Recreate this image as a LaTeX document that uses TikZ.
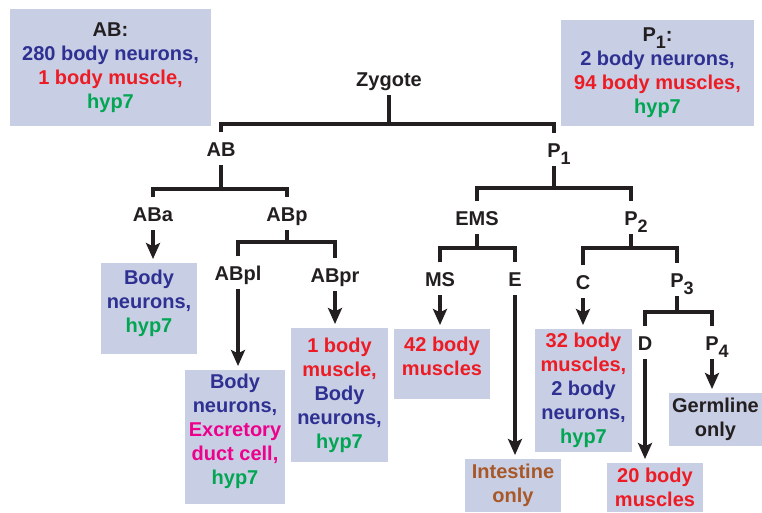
\documentclass[tikz,border=0pt]{standalone}
\usepackage{fontspec}
\setmainfont{Liberation Sans}
\usepackage{xcolor}
\usetikzlibrary{arrows.meta}
\definecolor{inkblack}{RGB}{35,31,32}
\definecolor{boxfill}{RGB}{200,206,228}
\definecolor{nrnblue}{RGB}{46,49,146}
\definecolor{mscred}{RGB}{237,28,36}
\definecolor{hypgreen}{RGB}{0,166,81}
\definecolor{ductpink}{RGB}{236,0,140}
\definecolor{gutbrown}{RGB}{168,88,40}
\newcommand{\lowidx}[1]{\smash{\raisebox{-5.25pt}{\fontsize{13.5pt}{13.5pt}\selectfont #1}}}
\newcommand{\Pcell}[1]{P\rlap{\lowidx{#1}}}
\newcommand{\nrn}[1]{\textcolor{nrnblue}{#1}}
\newcommand{\msc}[1]{\textcolor{mscred}{#1}}
\newcommand{\hypg}[1]{\textcolor{hypgreen}{#1}}
\newcommand{\duct}[1]{\textcolor{ductpink}{#1}}
\newcommand{\gut}[1]{\textcolor{gutbrown}{#1}}
\tikzset{
  splitline/.style = {draw=inkblack, line width=2.5pt},
  fatearr/.style   = {-{Stealth[length=12pt,width=10.5pt,inset=2.5pt]}, draw=inkblack,
                      line width=2.5pt, shorten >=3pt},
  cellname/.style  = {anchor=base, inner xsep=0pt, inner ysep=6.75pt, text height=10.7pt,
                      text depth=0pt, text=inkblack},
  fatebox/.style   = {fill=boxfill, align=center, inner sep=0pt, outer sep=0pt, text=inkblack},
  fatesize/.style 2 args = {minimum width=#1*0.75pt, minimum height=#2*0.75pt}
}

\begin{document}
\begin{tikzpicture}[x=0.75pt,y=-0.75pt,
    every node/.style={font=\fontsize{15pt}{18pt}\selectfont\bfseries}]
  \useasboundingbox (0,0) rectangle (762,512);
  % what the two founder cells give
  \node[fatebox,fatesize={201}{117}] (abinfo) at (110.5,67.5)
       {AB:\\ \nrn{280 body neurons,}\\ \msc{1 body muscle,}\\ \hypg{hyp7}};
  \node[fatebox,fatesize={193}{106}] (pinfo) at (657.5,73)
       {P\lowidx{1}:\\ \nrn{2 body neurons,}\\ \msc{94 body muscles,}\\ \hypg{hyp7}};
  % the cells of the lineage
  \node[cellname] (zyg)    at (389,86)  {Zygote};
  \node[cellname] (ab)     at (221,156) {AB};
  \node[cellname] (p1)     at (554,157) {\Pcell{1}};
  \node[cellname] (aba)    at (153,221) {ABa};
  \node[cellname] (abp)    at (287,221) {ABp};
  \node[cellname] (ems)    at (477,225) {EMS};
  \node[cellname] (ptwo)   at (631,225) {\Pcell{2}};
  \node[cellname] (abpl)   at (238,280) {ABpl};
  \node[cellname] (abpr)   at (335,282) {ABpr};
  \node[cellname] (ms)     at (440,286) {MS};
  \node[cellname] (e)      at (515,286) {E};
  \node[cellname] (c)      at (583,289) {C};
  \node[cellname] (pthree) at (677,287) {\Pcell{3}};
  \node[cellname] (d)      at (645,350) {D};
  \node[cellname] (pfour)  at (712,350) {\Pcell{4}};
  % fates at the ends of the branches
  \node[fatebox,fatesize={96}{91},text depth=10.7pt] (abafate) at (149,308.5)
       {\nrn{Body}\\ \nrn{neurons,}\\ \hypg{hyp7}};
  \node[fatebox,fatesize={100}{134},text depth=12.2pt] (abplfate) at (235,437)
       {\nrn{Body}\\ \nrn{neurons,}\\ \duct{Excretory}\\ \duct{duct cell,}\\ \hypg{hyp7}};
  \node[fatebox,fatesize={97}{134}] (abprfate) at (339.5,395)
       {\msc{1 body}\\ \msc{muscle,}\\ \nrn{Body}\\ \nrn{neurons,}\\ \hypg{hyp7}};
  \node[fatebox,fatesize={96}{70},text depth=12.2pt] (msfate) at (442,364)
       {\msc{42 body}\\ \msc{muscles}};
  \node[fatebox,fatesize={96}{53}] (efate) at (513,485.5)
       {\gut{Intestine}\\ \gut{only}};
  \node[fatebox,fatesize={97}{123}] (cfate) at (583.5,390.5)
       {\msc{32 body}\\ \msc{muscles,}\\ \nrn{2 body}\\ \nrn{neurons,}\\ \hypg{hyp7}};
  \node[fatebox,fatesize={96}{49}] (dfate) at (655,487.5)
       {\msc{20 body}\\ \msc{muscles}};
  \node[fatebox,fatesize={93}{53}] (pfourfate) at (715.5,419.5)
       {Germline\\ only};
  % where each division splits
  \coordinate (zygbar)    at (389,124);
  \coordinate (abbar)     at (221,189);
  \coordinate (p1bar)     at (554,188);
  \coordinate (abpbar)    at (287,242);
  \coordinate (emsbar)    at (477,248);
  \coordinate (ptwobar)   at (631,248);
  \coordinate (pthreebar) at (677,312);
  \draw[splitline] (zyg.south) -- (zyg.south |- zygbar);
  \draw[splitline] (ab.north) |- (zygbar) -| (p1.north);
  \draw[splitline] (ab.south) -- (ab.south |- abbar);
  \draw[splitline] (aba.north) |- (abbar) -| (abp.north);
  \draw[splitline] (p1.south) -- (p1.south |- p1bar);
  \draw[splitline] (ems.north) |- (p1bar) -| (ptwo.north);
  \draw[splitline] (abp.south) -- (abp.south |- abpbar);
  \draw[splitline] (abpl.north) |- (abpbar) -| (abpr.north);
  \draw[splitline] (ems.south) -- (ems.south |- emsbar);
  \draw[splitline] (ms.north) |- (emsbar) -| (e.north);
  \draw[splitline] (ptwo.south) -- (ptwo.south |- ptwobar);
  \draw[splitline] (c.north) |- (ptwobar) -| (pthree.north);
  \draw[splitline] (pthree.south) -- (pthree.south |- pthreebar);
  \draw[splitline] (d.north) |- (pthreebar) -| (pfour.north);
  % arrows down to the fates
  \draw[fatearr] (aba.south)   -- (aba.south |- abafate.north);
  \draw[fatearr] (abpl.south)  -- (abpl.south |- abplfate.north);
  \draw[fatearr] (abpr.south)  -- (abpr.south |- abprfate.north);
  \draw[fatearr] (ms.south)    -- (ms.south |- msfate.north);
  \draw[fatearr] (e.south)     -- (e.south |- efate.north);
  \draw[fatearr] (c.south)     -- (c.south |- cfate.north);
  \draw[fatearr] (d.south)     -- (d.south |- dfate.north);
  \draw[fatearr] (pfour.south) -- (pfour.south |- pfourfate.north);
\end{tikzpicture}
\end{document}
